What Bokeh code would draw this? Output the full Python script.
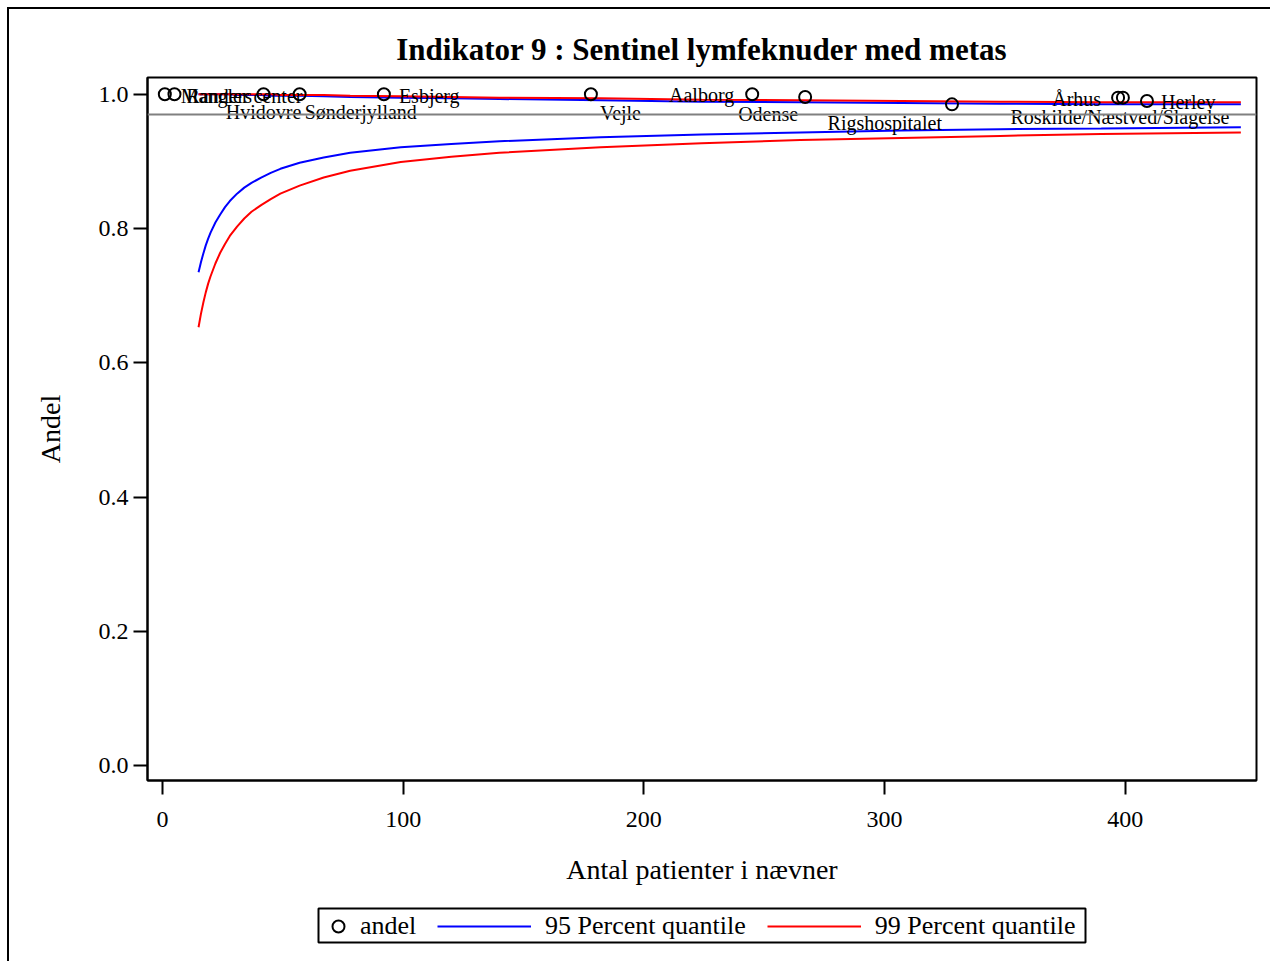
from bokeh.plotting import figure
from bokeh.layouts import column
from bokeh.models import (Range1d, ColumnDataSource, Legend, LegendItem, Span,
                          BoxAnnotation, FixedTicker, PrintfTickFormatter, InlineStyleSheet)
from bokeh.core.properties import value
from bokeh.embed import file_html
from bokeh.resources import INLINE

# Units: number of patients in the denominator and share (andel)
units = ["Mangler center", "Randers", "Hvidovre", "Sønderjylland", "Esbjerg", "Vejle",
         "Aalborg", "Odense", "Rigshospitalet", "Århus", "Roskilde/Næstved/Slagelse", "Herlev"]
patients = [1, 5, 42, 57, 92, 178, 245, 267, 328, 397, 399, 409]
andel = [1.0, 1.0, 1.0, 1.0, 1.0, 1.0, 1.0, 0.996, 0.985, 0.995, 0.995, 0.990]

# Overall share (reference line)
overall = 0.970

# Funnel limits by denominator size
n_grid = [15, 16, 17, 18, 19, 20, 22, 24, 26, 28, 31, 34, 37, 41, 45, 49, 57, 67, 78,
          99, 120, 140, 182, 224, 265, 307, 348, 390, 448]
q95_lower = [0.735, 0.750, 0.763, 0.775, 0.785, 0.794, 0.809, 0.821, 0.832, 0.841,
             0.852, 0.861, 0.868, 0.876, 0.883, 0.889, 0.898, 0.906, 0.913,
             0.921, 0.926, 0.930, 0.936, 0.940, 0.943, 0.946, 0.948, 0.949, 0.951]
q95_upper = [1.0, 1.0, 1.0, 1.0, 1.0, 1.0, 1.0, 1.0, 1.0, 1.0,
             0.999, 0.999, 0.999, 0.999, 0.998, 0.998, 0.998, 0.997, 0.996,
             0.995, 0.994, 0.993, 0.991, 0.989, 0.988, 0.987, 0.986, 0.985, 0.985]
q99_lower = [0.653, 0.673, 0.690, 0.705, 0.718, 0.729, 0.748, 0.764, 0.777, 0.789,
             0.803, 0.815, 0.825, 0.835, 0.844, 0.852, 0.864, 0.876, 0.886,
             0.899, 0.907, 0.913, 0.921, 0.927, 0.932, 0.935, 0.938, 0.941, 0.943]
q99_upper = [1.0, 1.0, 1.0, 1.0, 1.0, 1.0, 1.0, 1.0, 1.0, 1.0,
             1.0, 1.0, 1.0, 1.0, 1.0, 0.999, 0.999, 0.999, 0.998,
             0.997, 0.996, 0.995, 0.994, 0.992, 0.991, 0.990, 0.989, 0.988, 0.988]

x_ticks = [0, 100, 200, 300, 400]
y_ticks = [0.0, 0.2, 0.4, 0.6, 0.8, 1.0]

legend_labels = ["andel", "95 Percent quantile", "99 Percent quantile"]

# Label placement around each point (screen pixels)
lab_dx = [16, 12, 0, 5, 15, 9, -18, -7, -10, -17, -3, 14]
lab_dy = [2, 2, 18, 18, 2, 19, 1, 17, 19, 1, 19, 1]
lab_align = ["left", "left", "center", "left", "left", "left", "right", "right",
             "right", "right", "center", "left"]

FONT = "Liberation Serif"
BLUE = "#0000FF"
RED = "#FF0000"
BORDERS = dict(min_border_left=138, min_border_right=14)

p = figure(width=1261, height=881, output_backend="svg", toolbar_location=None,
           x_range=Range1d(-6.2, 454.5), y_range=Range1d(-0.022, 1.025),
           min_border_top=68, min_border_bottom=110, **BORDERS,
           title="Indikator 9 : Sentinel lymfeknuder med metas")

p.title.align = "center"
p.title.text_font = FONT
p.title.text_font_size = "31px"
p.title.text_font_style = "bold"
p.title.text_color = "black"
p.title.standoff = 22

p.grid.visible = False
p.outline_line_color = "black"
p.outline_line_width = 2

for ax in (p.xaxis[0], p.yaxis[0]):
    ax.axis_line_color = "black"
    ax.axis_line_width = 2
    ax.major_tick_line_color = "black"
    ax.major_tick_line_width = 2
    ax.major_tick_out = 14
    ax.major_tick_in = 0
    ax.minor_tick_line_color = None
    ax.major_label_text_font = FONT
    ax.major_label_text_font_size = "24px"
    ax.major_label_text_color = "black"
    ax.axis_label_text_font = FONT
    ax.axis_label_text_font_size = "28px"
    ax.axis_label_text_font_style = "normal"
    ax.axis_label_text_color = "black"

p.xaxis.ticker = FixedTicker(ticks=x_ticks)
p.yaxis.ticker = FixedTicker(ticks=y_ticks)
p.yaxis.formatter = PrintfTickFormatter(format="%.1f")
p.xaxis.axis_label = "Antal patienter i nævner"
p.yaxis.axis_label = "Andel"
p.xaxis.major_label_standoff = 17
p.xaxis.axis_label_standoff = 24
p.yaxis.major_label_standoff = 5
p.yaxis.axis_label_standoff = 30

# Reference line at the overall share
p.add_layout(Span(location=overall, dimension="width", line_color="#808080", line_width=2))

lim = ColumnDataSource(dict(n=n_grid, l95=q95_lower, u95=q95_upper, l99=q99_lower, u99=q99_upper))
p.line("n", "l95", source=lim, line_color=BLUE, line_width=2)
p.line("n", "u95", source=lim, line_color=BLUE, line_width=2)
p.line("n", "l99", source=lim, line_color=RED, line_width=2)
p.line("n", "u99", source=lim, line_color=RED, line_width=2)

pts = ColumnDataSource(dict(x=patients, y=andel, name=units, dx=lab_dx, dy=lab_dy, al=lab_align))
p.scatter("x", "y", source=pts, marker="circle", size=12, fill_color=None,
          line_color="black", line_width=2)
p.text("x", "y", text="name", source=pts, x_offset="dx", y_offset="dy", text_align="al",
       text_baseline="middle", text_font=value(FONT), text_font_size="20px", text_color="black")

# Legend strip beneath the chart; its x range runs in page pixels across the frame
lf = figure(width=1261, height=71, output_backend="svg", toolbar_location=None,
            x_range=Range1d(147, 1256), y_range=Range1d(71, 0),
            x_axis_location=None, y_axis_location=None,
            min_border_top=0, min_border_bottom=0, **BORDERS)
lf.grid.visible = False
lf.outline_line_color = None

off = dict(x=[-100], y=[-100])
g_pt = lf.scatter("x", "y", source=ColumnDataSource(off), marker="circle", size=12,
                  fill_color=None, line_color="black", line_width=2)
g_95 = lf.line("x", "y", source=ColumnDataSource(off), line_color=BLUE, line_width=2)
g_99 = lf.line("x", "y", source=ColumnDataSource(off), line_color=RED, line_width=2)

leg_style = dict(orientation="horizontal", padding=0, margin=0,
                 border_line_color=None, background_fill_alpha=0, label_text_font=FONT,
                 label_text_font_size="26px", label_text_color="black", label_height=24)
leg_a = Legend(items=[LegendItem(label=legend_labels[0], renderers=[g_pt])],
               location=(176, 20), glyph_width=30, glyph_height=30, label_standoff=7,
               **leg_style)
leg_b = Legend(items=[LegendItem(label=legend_labels[1], renderers=[g_95]),
                      LegendItem(label=legend_labels[2], renderers=[g_99])],
               location=(290, 20), glyph_width=94, glyph_height=24, label_standoff=14,
               spacing=21, **leg_style)
lf.add_layout(leg_a)
lf.add_layout(leg_b)
lf.add_layout(BoxAnnotation(left=318, right=1085, top=18, bottom=52,
                            fill_alpha=0, line_color="black", line_alpha=1, line_width=2))

page = column(p, lf, spacing=0, stylesheets=[InlineStyleSheet(css=(
    ":host { margin-left: 7px; margin-top: 7px; "
    "border-left: 2px solid black; border-top: 2px solid black; }"))])

open("out.html", "w").write(file_html(page, INLINE))
